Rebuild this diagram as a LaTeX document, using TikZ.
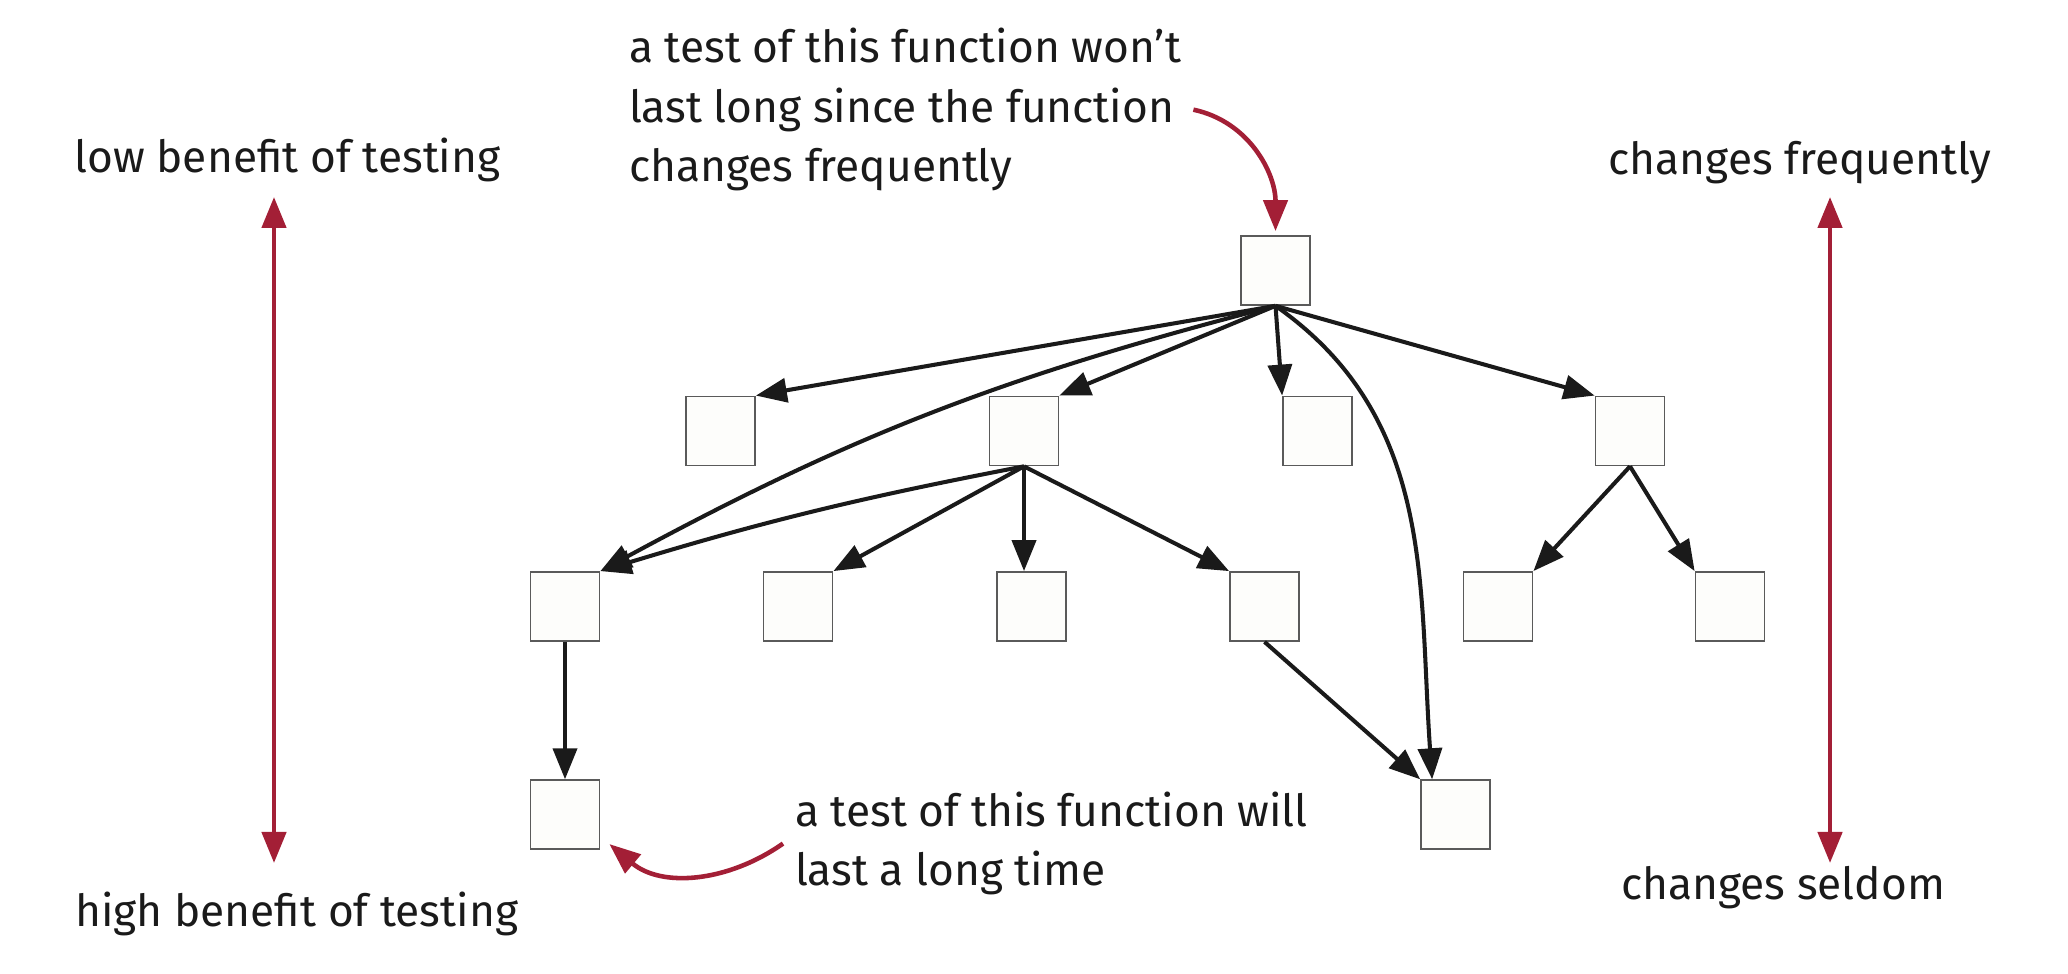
\documentclass[tikz,border=0pt]{standalone}
\usepackage{fontspec}
\setmainfont{Fira Sans}
\usetikzlibrary{arrows.meta}
\usetikzlibrary{positioning}

\definecolor{notered}{HTML}{A31F36}
\definecolor{boxline}{HTML}{5A5A5A}
\definecolor{boxfill}{HTML}{FDFDFB}
\definecolor{edgeblack}{HTML}{1A1A1A}

\begin{document}
\begin{tikzpicture}[
    line width=1.15pt,
    font=\fontsize{12.6}{17}\selectfont
]
\tikzset{
    fnnode/.style = {rectangle, draw=boxline, fill=boxfill, line width=0.5pt, minimum size=0.69cm, inner sep=0pt},
    txtnode/.style = {inner sep=0pt, text=edgeblack, anchor=base},
    notenode/.style = {inner sep=1mm, text=edgeblack, align=left, anchor=base west},
    fnedge/.style = {-{Triangle[length=3.1mm,width=2.4mm]}, draw=edgeblack},
    noteedge/.style = {-{Triangle[length=3.1mm,width=2.4mm]}, draw=notered, line width=1.3pt},
    scaleedge/.style = {{Triangle[length=3.1mm,width=2.4mm]}-{Triangle[length=3.1mm,width=2.4mm]}, draw=notered, line width=1.3pt}
}
\useasboundingbox (0,0) rectangle (20.68,9.74);
% functions
\node[fnnode] at (12.755,7.035) (root) {};
\node[fnnode] at (7.205,5.43) (a1) {};
\node[fnnode] at (10.24,5.43) (a2) {};
\node[fnnode] at (13.175,5.43) (a3) {};
\node[fnnode] at (16.30,5.43) (a4) {};
\node[fnnode] at (5.65,3.675) (b1) {};
\node[fnnode] at (7.98,3.675) (b2) {};
\node[fnnode] at (10.315,3.675) (b3) {};
\node[fnnode] at (12.645,3.675) (b4) {};
\node[fnnode] at (14.98,3.675) (b5) {};
\node[fnnode] at (17.30,3.675) (b6) {};
\node[fnnode] at (5.65,1.593) (c1) {};
\node[fnnode] at (14.555,1.593) (c2) {};
% calls
\draw[fnedge] (root.south) -- (a1.north east);
\draw[fnedge] (root.south) -- (a2.north east);
\draw[fnedge] (root.south) -- (a3.north west);
\draw[fnedge] (root.south) -- (a4.north west);
\draw[fnedge] (root.south) to[bend right=7] (b1.north east);
\draw[fnedge] (root.south) to[out=-35,in=94] ([xshift=1.2mm]c2.north west);
\draw[fnedge] (a2.south) to[bend right=3] (b1.north east);
\draw[fnedge] (a2.south) -- (b2.north east);
\draw[fnedge] (a2.south) -- (a2.south |- b3.north);
\draw[fnedge] (a2.south) -- (b4.north west);
\draw[fnedge] (a4.south) -- (b5.north east);
\draw[fnedge] (a4.south) -- (b6.north west);
\draw[fnedge] (b1.south) -- (c1.north);
\draw[fnedge] (b4.south) -- (c2.north west);
% scales
\node[txtnode] at (2.875,8.01) (lowtxt) {low benefit of testing};
\node[txtnode] at (2.966,0.473) (hightxt) {high benefit of testing};
\node[txtnode] at (18.00,7.99) (freqtxt) {changes frequently};
\node[txtnode] at (17.83,0.74) (seldomtxt) {changes seldom};
\coordinate (lowtip) at (2.74,7.77);
\coordinate (hightip) at (2.74,1.11);
\coordinate (freqtip) at (18.30,7.77);
\coordinate (seldomtip) at (18.30,1.11);
\draw[scaleedge] (lowtip) -- (hightip);
\draw[scaleedge] (freqtip) -- (seldomtip);
% notes
\node[notenode] at (6.17,7.92) (topnote) {a test of this function won’t\\last long since the function\\changes frequently};
\node[notenode] at (7.83,0.88) (botnote) {a test of this function will\\last a long time};
\draw[noteedge] (topnote.east) to[out=-12,in=90] ([yshift=0.4mm]root.north);
\draw[noteedge] (botnote.west) to[out=215,in=-40] ([xshift=0.9mm,yshift=0.6mm]c1.south east);
\end{tikzpicture}
\end{document}
